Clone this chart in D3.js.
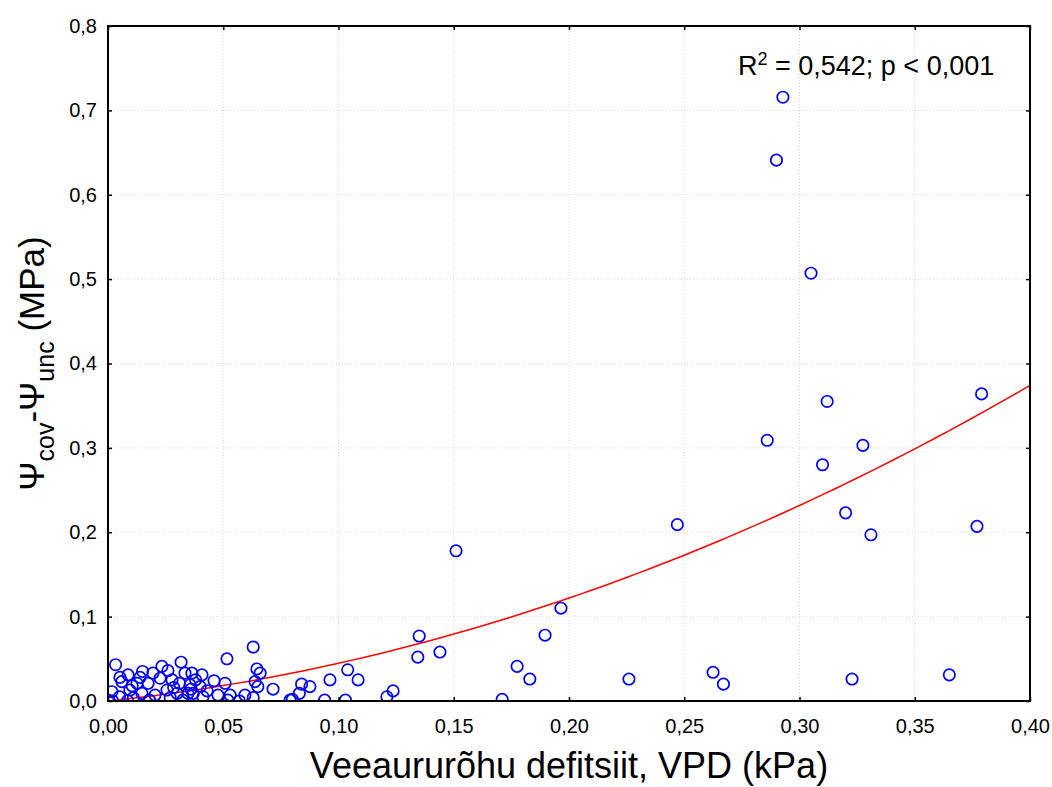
<!DOCTYPE html>
<html>
<head>
<meta charset="utf-8">
<script src="https://cdn.jsdelivr.net/npm/d3@7"></script>
<style>
  body { margin: 0; background: #fff; }
  text { font-family: "Liberation Sans", Arial, sans-serif; fill: #000; }
</style>
</head>
<body>
<svg id="chart" width="1052" height="787"></svg>
<script>
// VPD (kPa) and water potential difference (MPa)
const vpd = [
  0.0033, 0.0234, 0.0317, 0.026, 0.0195, 0.0334, 0.0087, 0.0139, 0.0052, 0.006,
  0.0226, 0.0278, 0.0174, 0.0126, 0.031, 0.0356, 0.0095, 0.0017, 0.0147, 0.0256,
  0.0204, 0.030, 0.0347, 0.005, 0.011, 0.027, 0.000, 0.002, 0.018, 0.0325,
  0.063, 0.0516, 0.0646, 0.066, 0.0408, 0.046, 0.0508, 0.0638, 0.0716, 0.040,
  0.0364, 0.065, 0.053, 0.0594, 0.0477, 0.0412, 0.063, 0.037, 0.079, 0.052,
  0.057, 0.036, 0.043, 0.0105, 0.0285, 0.038, 0.015, 0.0085,
  0.104, 0.0963, 0.1085, 0.084, 0.0876, 0.083, 0.080, 0.094, 0.103, 0.121, 0.1237,
  0.135, 0.1344, 0.144, 0.151, 0.1775, 0.183, 0.171, 0.1896, 0.1965, 0.226,
  0.247, 0.2625, 0.267,
  0.2928, 0.290, 0.305, 0.312, 0.286, 0.310, 0.3275, 0.320, 0.331, 0.379,
  0.377, 0.3228, 0.365
];
const dPsi = [
  0.043, 0.041, 0.046, 0.036, 0.033, 0.033, 0.031, 0.028, 0.028, 0.023,
  0.027, 0.025, 0.021, 0.021, 0.021, 0.019, 0.013, 0.011, 0.009, 0.013,
  0.007, 0.009, 0.009, 0.005, 0.004, 0.004, 0.001, 0.000, 0.001, 0.001,
  0.064, 0.050, 0.038, 0.033, 0.031, 0.024, 0.021, 0.023, 0.014, 0.017,
  0.033, 0.017, 0.007, 0.007, 0.007, 0.005, 0.004, 0.009, 0.001, 0.001,
  0.000, 0.014, 0.012, 0.018, 0.016, 0.025, 0.035, 0.0005,
  0.037, 0.025, 0.025, 0.020, 0.017, 0.009, 0.002, 0.001, 0.001, 0.005, 0.012,
  0.077, 0.052, 0.058, 0.178, 0.041, 0.026, 0.002, 0.078, 0.110, 0.026,
  0.209, 0.034, 0.020,
  0.7156, 0.641, 0.507, 0.355, 0.309, 0.280, 0.303, 0.223, 0.197, 0.364,
  0.207, 0.026, 0.031
];

// fitted polynomial y = c0 + c1*x + c2*x^2
const fitCoef = [0, 0.285, 1.625];

const xTicks = [0, 0.05, 0.10, 0.15, 0.20, 0.25, 0.30, 0.35, 0.40];
const yTicks = [0, 0.1, 0.2, 0.3, 0.4, 0.5, 0.6, 0.7, 0.8];

const svg = d3.select("#chart");
const mLeft = 108, mRight = 1030, mTop = 26, mBottom = 701;

const x = d3.scaleLinear().domain([0, 0.4]).range([mLeft, mRight]);
const y = d3.scaleLinear().domain([0, 0.8]).range([mBottom, mTop]);

const fmtX = v => d3.format(".2f")(v).replace(".", ",");
const fmtY = v => d3.format(".1f")(v).replace(".", ",");

// Grid
svg.append("g")
  .selectAll("line")
  .data(xTicks.slice(1, -1))
  .join("line")
  .attr("x1", d => x(d)).attr("x2", d => x(d))
  .attr("y1", mTop).attr("y2", mBottom)
  .attr("stroke", "#d8d8d8").attr("stroke-width", 1)
  .attr("stroke-dasharray", "1,2");

svg.append("g")
  .selectAll("line")
  .data(yTicks.slice(1, -1))
  .join("line")
  .attr("x1", mLeft).attr("x2", mRight)
  .attr("y1", d => y(d)).attr("y2", d => y(d))
  .attr("stroke", "#d8d8d8").attr("stroke-width", 1)
  .attr("stroke-dasharray", "1,2");

svg.append("clipPath").attr("id", "clip")
  .append("rect")
  .attr("x", mLeft).attr("y", mTop)
  .attr("width", mRight - mLeft).attr("height", mBottom - mTop);

const plot = svg.append("g").attr("clip-path", "url(#clip)");

// Fit curve
const curveX = d3.range(0, 0.4001, 0.005);
const line = d3.line()
  .x(d => x(d))
  .y(d => y(fitCoef[0] + fitCoef[1] * d + fitCoef[2] * d * d));

plot.append("path")
  .datum(curveX)
  .attr("d", line)
  .attr("fill", "none")
  .attr("stroke", "#ff0000")
  .attr("stroke-width", 1.5);

// Points
plot.selectAll("circle")
  .data(vpd.map((v, i) => [v, dPsi[i]]))
  .join("circle")
  .attr("cx", d => x(d[0]))
  .attr("cy", d => y(d[1]))
  .attr("r", 5.7)
  .attr("fill", "none")
  .attr("stroke", "#0000ff")
  .attr("stroke-width", 1.7);

// Axes, ticks inward on all sides
const tickLen = 4;
svg.append("g")
  .attr("transform", `translate(0,${mBottom})`)
  .call(d3.axisBottom(x).tickValues(xTicks).tickSize(-tickLen).tickPadding(18).tickFormat(fmtX))
  .call(g => g.select(".domain").remove())
  .call(g => g.selectAll("text").style("font-size", "20px").attr("font-family", "Liberation Sans, Arial, sans-serif"));

svg.append("g")
  .attr("transform", `translate(0,${mTop})`)
  .call(d3.axisTop(x).tickValues(xTicks).tickSize(-tickLen).tickFormat(""))
  .call(g => g.select(".domain").remove());

svg.append("g")
  .attr("transform", `translate(${mLeft},0)`)
  .call(d3.axisLeft(y).tickValues(yTicks).tickSize(-tickLen).tickPadding(11).tickFormat(fmtY))
  .call(g => g.select(".domain").remove())
  .call(g => g.selectAll("text").style("font-size", "20px").attr("font-family", "Liberation Sans, Arial, sans-serif"));

svg.append("g")
  .attr("transform", `translate(${mRight},0)`)
  .call(d3.axisRight(y).tickValues(yTicks).tickSize(-tickLen).tickFormat(""))
  .call(g => g.select(".domain").remove());

svg.selectAll(".tick line").attr("stroke", "#000").attr("stroke-width", 1.5);

svg.append("rect")
  .attr("x", mLeft).attr("y", mTop)
  .attr("width", mRight - mLeft).attr("height", mBottom - mTop)
  .attr("fill", "none")
  .attr("stroke", "#000")
  .attr("stroke-width", 2);

// Annotation
const ann = svg.append("text")
  .attr("x", 738).attr("y", 75)
  .style("font-size", "27px");
ann.append("tspan").text("R");
ann.append("tspan").attr("dy", -10).style("font-size", "18px").text("2");
ann.append("tspan").attr("dy", 10).text(" = 0,542; p < 0,001");

// Axis titles
svg.append("text")
  .attr("x", (mLeft + mRight) / 2)
  .attr("y", 778)
  .attr("text-anchor", "middle")
  .style("font-size", "36px")
  .text("Veeaururõhu defitsiit, VPD (kPa)");

const yt = svg.append("text")
  .attr("transform", `translate(44,${(mTop + mBottom) / 2}) rotate(-90)`)
  .attr("text-anchor", "middle")
  .style("font-size", "35px");
yt.append("tspan").text("Ψ");
yt.append("tspan").attr("dy", 10).style("font-size", "25px").text("cov");
yt.append("tspan").attr("dy", -10).text("-Ψ");
yt.append("tspan").attr("dy", 10).style("font-size", "25px").text("unc");
yt.append("tspan").attr("dy", -10).text(" (MPa)");
</script>
</body>
</html>
